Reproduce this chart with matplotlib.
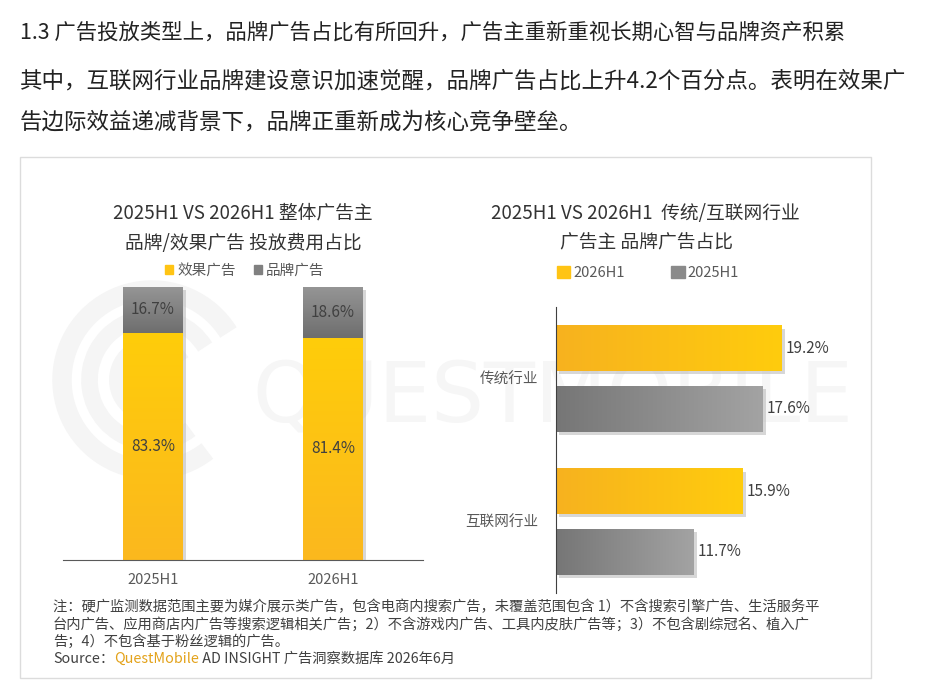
import numpy as np
import matplotlib
matplotlib.use("Agg")
import matplotlib.pyplot as plt
from matplotlib.patches import Rectangle, Patch, Arc
from matplotlib.colors import LinearSegmentedColormap
import matplotlib.patheffects as pe

plt.rcParams['font.family'] = ['Noto Sans CJK SC', 'DejaVu Sans']

# data
periods = ['2025H1', '2026H1']
effect_share = [83.3, 81.4]   # 效果广告
brand_share = [16.7, 18.6]    # 品牌广告

industries = ['传统行业', '互联网行业']
brand_2026 = [19.2, 15.9]
brand_2025 = [17.6, 11.7]

W, H = 925, 685
fig = plt.figure(figsize=(W / 100, H / 100), dpi=100)


def fx(px):
    return px / W


def fy(py):
    return 1 - py / H


TXT = '#404040'

# header text
fig.text(fx(20), fy(33), '1.3 广告投放类型上，品牌广告占比有所回升，广告主重新重视长期心智与品牌资产积累',
         fontsize=15.4, color='#222222', va='center')
fig.text(fx(20), fy(81), '其中，互联网行业品牌建设意识加速觉醒，品牌广告占比上升4.2个百分点。表明在效果广',
         fontsize=16.2, color='#222222', va='center')
fig.text(fx(20), fy(122), '告边际效益递减背景下，品牌正重新成为核心竞争壁垒。',
         fontsize=16.2, color='#222222', va='center')

# card frame
fig.patches.append(Rectangle((fx(20), fy(678)), fx(871) - fx(20), fy(157) - fy(678),
                             transform=fig.transFigure, facecolor='white',
                             edgecolor='#dcdcdc', lw=1, zorder=-3))

# faint watermark
fig.text(fx(553), fy(398), 'QUESTMOBILE', fontsize=60, color='#f6f6f6',
         ha='center', va='center', family='DejaVu Sans', zorder=-1)
for r, lw in [(180, 14), (125, 12), (72, 10)]:
    fig.patches.append(Arc((fx(152), fy(380)), r / W, r / H, theta1=40, theta2=300,
                           transform=fig.transFigure, color='#f5f5f5', lw=lw, zorder=-1))

yellow_h = LinearSegmentedColormap.from_list('yh', ['#F7B21F', '#FFCC0D'])
gray_h = LinearSegmentedColormap.from_list('gh', ['#767676', '#A3A3A3'])
yellow_v = LinearSegmentedColormap.from_list('yv', ['#FBB81E', '#FFCD0A'])
gray_v = LinearSegmentedColormap.from_list('gv', ['#6E6E6E', '#959595'])


def fill_gradient(ax, patch, cmap, horizontal):
    x0, y0 = patch.get_x(), patch.get_y()
    w, h = patch.get_width(), patch.get_height()
    grad = np.linspace(0, 1, 256)
    img = grad[None, :] if horizontal else grad[:, None]
    im = ax.imshow(img, cmap=cmap, extent=(x0, x0 + w, y0, y0 + h),
                   aspect='auto', origin='lower', zorder=patch.get_zorder() + 0.1)
    im.set_clip_path(patch)


shadow = [pe.SimplePatchShadow(offset=(2.5, -2.5), shadow_rgbFace='#bdbdbd', alpha=0.6), pe.Normal()]

# ---- left chart: stacked columns
ax1 = fig.add_axes([fx(63), fy(560), fx(423) - fx(63), fy(287) - fy(560)])
ax1.patch.set_alpha(0)
x = np.arange(len(periods))
b1 = ax1.bar(x, effect_share, width=0.333, color='#FFC414', path_effects=shadow, zorder=2)
b2 = ax1.bar(x, brand_share, bottom=effect_share, width=0.333, color='#808080',
             path_effects=shadow, zorder=2)
for p in b1:
    fill_gradient(ax1, p, yellow_v, False)
for p in b2:
    fill_gradient(ax1, p, gray_v, False)
for i in range(len(periods)):
    ax1.text(x[i], effect_share[i] / 2, f'{effect_share[i]:.1f}%', ha='center', va='center',
             fontsize=11, color=TXT, zorder=5)
    ax1.text(x[i], effect_share[i] + brand_share[i] / 2, f'{brand_share[i]:.1f}%', ha='center',
             va='center', fontsize=11, color=TXT, zorder=5)
ax1.set_xlim(-0.5, 1.5)
ax1.set_ylim(0, 100)
ax1.set_xticks(x)
ax1.set_xticklabels(periods, fontsize=10.5, color='#595959')
ax1.set_yticks([])
for s in ['top', 'right', 'left']:
    ax1.spines[s].set_visible(False)
ax1.spines['bottom'].set_color('#595959')
ax1.tick_params(axis='x', length=0, pad=9)

fig.text(fx(243), fy(213), '2025H1 VS 2026H1 整体广告主', fontsize=13.5, color='#333333',
         ha='center', va='center')
fig.text(fx(243), fy(243), '品牌/效果广告 投放费用占比', fontsize=13.5, color='#333333',
         ha='center', va='center')
fig.legend([Patch(color='#FFC414'), Patch(color='#808080')], ['效果广告', '品牌广告'],
           loc='center', bbox_to_anchor=(fx(245), fy(271)), ncol=2, frameon=False,
           fontsize=10.5, handlelength=0.55, handleheight=0.55, handletextpad=0.3,
           columnspacing=1.2, labelcolor='#595959')

# ---- right chart: horizontal bars
ax2 = fig.add_axes([fx(556), fy(593), fx(869) - fx(556), fy(307) - fy(593)])
ax2.patch.set_alpha(0)
y = np.arange(len(industries))
off, bh = 0.2125, 0.32
r1 = ax2.barh(y - off, brand_2026, height=bh, color='#FFC414', path_effects=shadow, zorder=2)
r2 = ax2.barh(y + off, brand_2025, height=bh, color='#8a8a8a', path_effects=shadow, zorder=2)
for p in r1:
    fill_gradient(ax2, p, yellow_h, True)
for p in r2:
    fill_gradient(ax2, p, gray_h, True)
for i in range(len(industries)):
    ax2.text(brand_2026[i] + 0.35, y[i] - off, f'{brand_2026[i]:.1f}%', va='center',
             fontsize=11, color=TXT, zorder=5)
    ax2.text(brand_2025[i] + 0.35, y[i] + off, f'{brand_2025[i]:.1f}%', va='center',
             fontsize=11, color=TXT, zorder=5)
ax2.set_xlim(0, 26.7)
ax2.set_ylim(1.5, -0.5)
ax2.set_yticks(y)
ax2.set_yticklabels(industries, fontsize=10.5, color='#595959')
ax2.set_xticks([])
for s in ['top', 'right', 'bottom']:
    ax2.spines[s].set_visible(False)
ax2.spines['left'].set_color('#404040')
ax2.tick_params(axis='y', length=0, pad=13)

fig.text(fx(645), fy(213), '2025H1 VS 2026H1  传统/互联网行业', fontsize=13.5, color='#333333',
         ha='center', va='center')
fig.text(fx(646), fy(243), '广告主 品牌广告占比', fontsize=13.5, color='#333333',
         ha='center', va='center')
fig.legend([Patch(color='#FFC414'), Patch(color='#8a8a8a')], ['2026H1', '2025H1'],
           loc='center', bbox_to_anchor=(fx(648), fy(273)), ncol=2, frameon=False,
           fontsize=10.5, handlelength=0.9, handleheight=0.9, handletextpad=0.2,
           columnspacing=3.2, labelcolor='#595959')

# ---- footnote
note = ('注：硬广监测数据范围主要为媒介展示类广告，包含电商内搜索广告，未覆盖范围包含 1）不含搜索引擎广告、生活服务平\n'
        '台内广告、应用商店内广告等搜索逻辑相关广告；2）不含游戏内广告、工具内皮肤广告等；3）不包含剧综冠名、植入广\n'
        '告；4）不包含基于粉丝逻辑的广告。')
fig.text(fx(53), fy(600), note, fontsize=10.3, color=TXT, va='top', linespacing=1.2)

fig.canvas.draw()
rend = fig.canvas.get_renderer()
parts = [('Source：', TXT), ('QuestMobile', '#E3A21A'), (' AD INSIGHT 广告洞察数据库 2026年6月', TXT)]
xpos = fx(53)
for s, c in parts:
    t = fig.text(xpos, fy(659), s, fontsize=10.3, color=c, va='center')
    bb = t.get_window_extent(rend)
    xpos += bb.width / W

fig.savefig('out.png', dpi=100)
